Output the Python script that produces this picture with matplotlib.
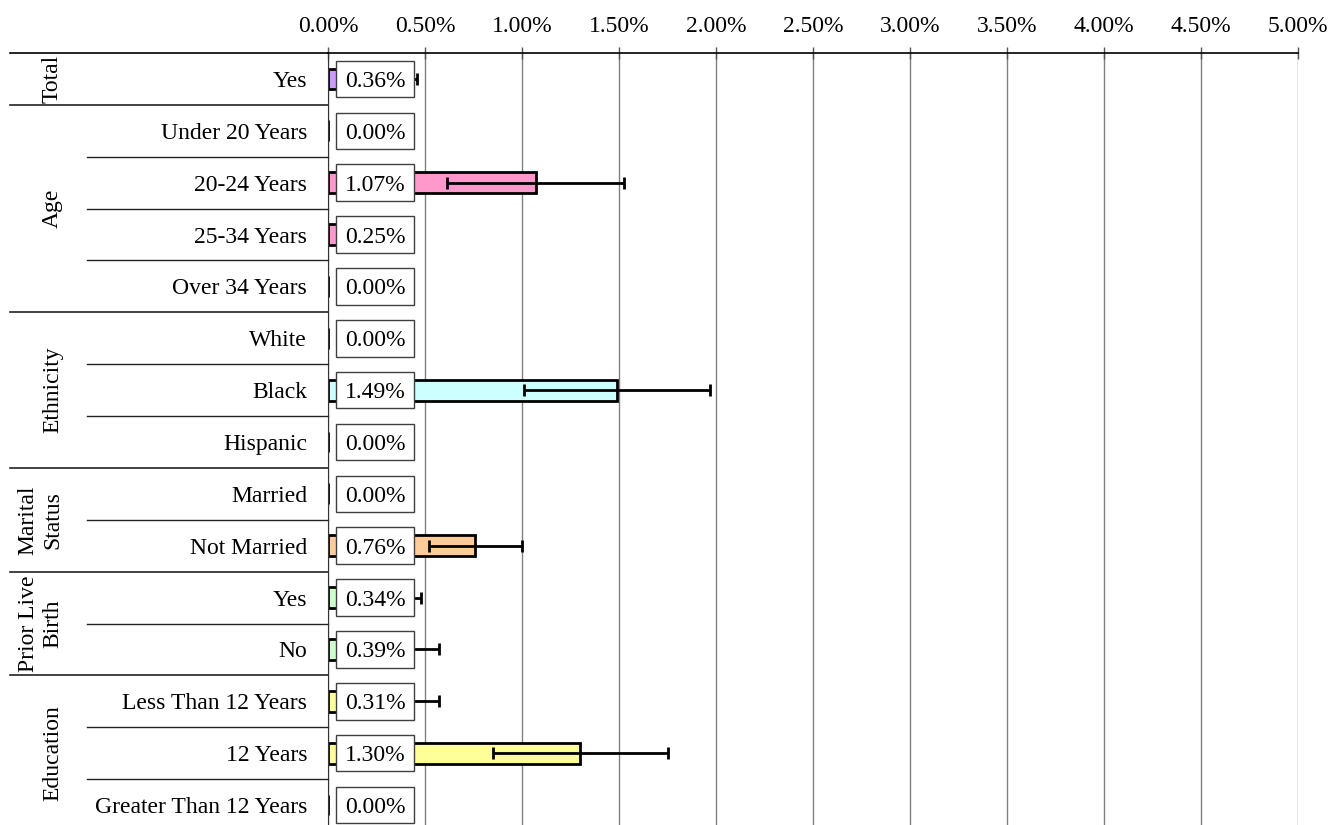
import matplotlib
matplotlib.use('Agg')
import matplotlib.pyplot as plt
from matplotlib.patches import Rectangle
from matplotlib.transforms import blended_transform_factory

plt.rcParams['font.family'] = ['Liberation Serif', 'DejaVu Serif']

# data
categories = ['Yes', 'Under 20 Years', '20-24 Years', '25-34 Years', 'Over 34 Years',
              'White', 'Black', 'Hispanic', 'Married', 'Not Married',
              'Yes', 'No', 'Less Than 12 Years', '12 Years', 'Greater Than 12 Years']
values = [0.36, 0.00, 1.07, 0.25, 0.00, 0.00, 1.49, 0.00, 0.00, 0.76,
          0.34, 0.39, 0.31, 1.30, 0.00]
errors = [0.10, 0.0, 0.455, 0.0, 0.0, 0.0, 0.48, 0.0, 0.0, 0.24,
          0.14, 0.18, 0.26, 0.45, 0.0]
groups = ['Total', 'Age', 'Ethnicity', 'Marital\nStatus', 'Prior Live\nBirth', 'Education']
group_sizes = [1, 4, 3, 2, 2, 3]
group_colors = ['#CC99FF', '#FF99CC', '#CCFFFF', '#FFCC99', '#CCFFCC', '#FFFF99']
xticks = [0, 0.5, 1.0, 1.5, 2.0, 2.5, 3.0, 3.5, 4.0, 4.5, 5.0]

W, H = 1329, 825
fig = plt.figure(figsize=(W / 100, H / 100), dpi=100)
ax = fig.add_axes([328 / W, 1 - 831 / H, 970 / W, 778 / H])

colors = []
for c, n in zip(group_colors, group_sizes):
    colors += [c] * n

y = list(range(len(categories)))
ax.barh(y, values, height=0.4, color=colors, edgecolor='black', linewidth=2, zorder=2)
for yi, v, e in zip(y, values, errors):
    if e > 0:
        ax.errorbar(v, yi, xerr=e, fmt='none', ecolor='black', elinewidth=2,
                    capsize=4, capthick=2, zorder=3)

# value boxes
for yi, v in zip(y, values):
    ax.add_patch(Rectangle((0.041, yi - 0.352), 0.402, 0.704, facecolor='white',
                           edgecolor='#404040', linewidth=1, zorder=4))
    ax.text(0.242, yi, f'{v:.2f}%', ha='center', va='center_baseline', fontsize=17, zorder=5)

ax.set_xlim(0, 5)
ax.set_ylim(len(categories) - 0.5, -0.5)
ax.set_xticks(xticks)
ax.set_xticklabels([f'{t:.2f}%' for t in xticks])
ax.xaxis.tick_top()
ax.tick_params(axis='x', direction='inout', length=9, width=1, color='#555555',
               labelsize=17, pad=7)
ax.set_yticks(y)
ax.set_yticklabels(categories, fontsize=17)
ax.tick_params(axis='y', length=0, pad=15)
ax.grid(axis='x', color='#808080', linewidth=1, zorder=0)
ax.set_axisbelow(True)
for s in ['right', 'bottom']:
    ax.spines[s].set_visible(False)
ax.spines['top'].set_linewidth(1.2)
ax.spines['left'].set_color('#333333')

# left-side separators and group labels
tr = blended_transform_factory(ax.transAxes, ax.transData)
x_outer = (10 - 328) / 970
x_inner = (87 - 328) / 970
x_label = (63 - 328) / 970
ax.plot([x_outer, 0], [-0.5, -0.5], transform=tr, color='black', lw=1.2, clip_on=False)
start = 0
for g, n in zip(groups, group_sizes):
    for k in range(1, n):
        ax.plot([x_inner, 0], [start + k - 0.5] * 2, transform=tr, color='#222222',
                lw=1, clip_on=False)
    end = start + n
    ax.plot([x_outer, 0], [end - 0.5] * 2, transform=tr, color='#222222', lw=1.2,
            clip_on=False)
    ax.text(x_label, start + (n - 1) / 2, g, transform=tr, rotation=90, ha='right',
            va='center', multialignment='center', fontsize=17, linespacing=1.2)
    start = end

fig.savefig('out.png', dpi=100)
